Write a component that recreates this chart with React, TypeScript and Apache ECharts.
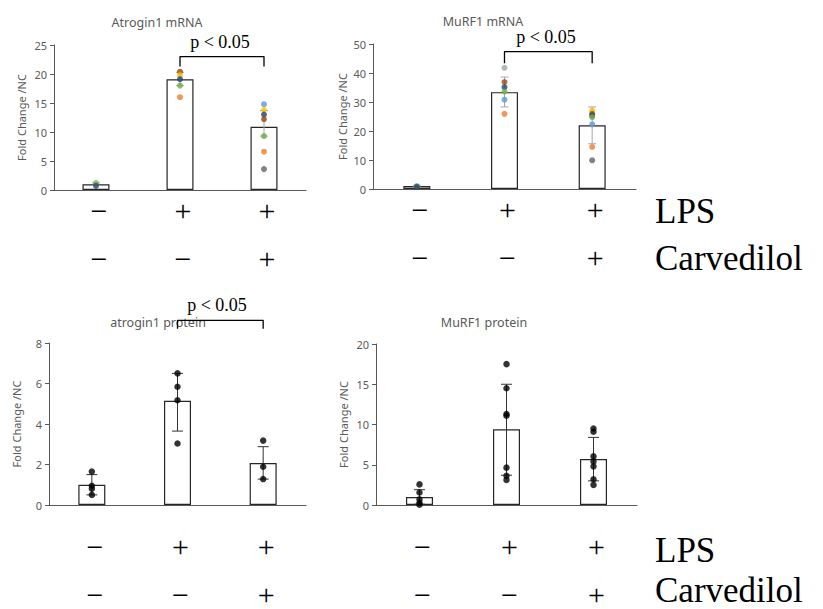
import React, { useEffect, useRef } from "react";
import * as echarts from "echarts";

// ---------- data ----------
const categories = ["NC", "LPS", "LPS+Carvedilol"];
const lpsRow = ["−", "+", "+"];
const carvRow = ["−", "−", "+"];
const panelTitles = ["Atrogin1 mRNA", "MuRF1 mRNA", "atrogin1 protein", "MuRF1 protein"];
const yAxisName = "Fold Change /NC";
const yMax = [25, 50, 8, 20];
const yStep = [5, 10, 2, 5];

const C = {
  lightBlue: "#5B9BD5",
  orange: "#ED7D31",
  gray: "#A5A5A5",
  gold: "#FFC000",
  blue: "#4472C4",
  green: "#70AD47",
  navy: "#264478",
  brown: "#9E480E",
  darkGray: "#636363",
  black: "#000000",
};

// Atrogin1 mRNA
const atroMrnaMeans = [1.0, 19.1, 10.9];
const atroMrnaLow = [0.8, 18.0, 9.3];
const atroMrnaHigh = [1.2, 20.3, 13.7];
const atroMrnaDots = [
  [1.2, 0.7],
  [20.4, 19.8, 19.1, 18.0, 16.0],
  [14.8, 13.8, 13.0, 12.2, 9.3, 6.6, 3.6],
];
const atroMrnaColors = [
  [C.green, C.navy],
  [C.brown, C.gold, C.navy, C.green, C.orange],
  [C.lightBlue, C.gold, C.navy, C.brown, C.green, C.orange, C.darkGray],
];

// MuRF1 mRNA
const murfMrnaMeans = [1.0, 33.4, 22.0];
const murfMrnaLow = [0.7, 28.3, 15.6];
const murfMrnaHigh = [1.3, 38.6, 28.3];
const murfMrnaDots = [
  [1.0, 0.7],
  [41.8, 36.9, 35.1, 33.6, 30.8, 25.9],
  [27.0, 25.9, 25.4, 24.8, 22.3, 14.5, 9.9],
];
const murfMrnaColors = [
  [C.green, C.navy],
  [C.gray, C.brown, C.navy, C.green, C.lightBlue, C.orange],
  [C.gold, C.brown, C.navy, C.green, C.lightBlue, C.orange, C.darkGray],
];

// atrogin1 protein
const atroProtMeans = [1.0, 5.15, 2.07];
const atroProtLow = [0.5, 3.65, 1.28];
const atroProtHigh = [1.5, 6.5, 2.88];
const atroProtDots = [
  [1.65, 0.95, 0.8, 0.5],
  [6.5, 5.84, 5.17, 3.04],
  [3.18, 1.89, 1.28],
];

// MuRF1 protein
const murfProtMeans = [1.0, 9.4, 5.72];
const murfProtLow = [0.1, 3.7, 3.0];
const murfProtHigh = [1.9, 15.0, 8.4];
const murfProtDots = [
  [2.56, 1.56, 0.72, 0.28, 0.04],
  [17.5, 14.5, 11.3, 11.1, 4.64, 3.64, 3.12],
  [9.5, 9.1, 6.04, 5.4, 4.8, 3.2, 2.5],
];

// significance brackets
const brackets = [
  { panel: 0, from: 1, to: 2, leg: 21.3, top: 23.0, label: "p < 0.05" },
  { panel: 1, from: 1, to: 2, leg: 43.4, top: 47.4, label: "p < 0.05" },
  { panel: 2, from: 1, to: 2, leg: 8.7, top: 9.12, label: "p < 0.05" },
];

const rowNames = ["LPS", "Carvedilol"];

// ---------- layout ----------
const grids = [
  { left: 54, top: 45, width: 252, height: 145 },
  { left: 373, top: 44, width: 263, height: 145 },
  { left: 49, top: 343, width: 257, height: 167 },
  { left: 376, top: 344, width: 261, height: 167 },
];
const nameGaps = [27, 25, 27, 27];
const labelMargins = [5, 5, 26, 26];
const titlePos = [
  [157, 22],
  [483, 21],
  [158, 322],
  [484, 322],
];
const pPos = [
  [220, 42],
  [546, 37],
  [217, 305],
];
const rowTextPos = [
  [655, 211],
  [655, 258],
  [655, 550],
  [655, 590],
];

const AXIS = "#595959";
const SANS = "'Noto Sans', sans-serif";
const SERIF = "'Liberation Serif', 'DejaVu Serif', serif";

function buildPanel(
  i: number,
  means: number[],
  low: number[],
  high: number[],
  dots: number[][],
  colors: string[][] | null,
  errColor: string,
  dotSize: number,
  capW: number
) {
  const series: any[] = [];
  series.push({
    type: "bar",
    xAxisIndex: i,
    yAxisIndex: i,
    data: means,
    barWidth: 27,
    itemStyle: { color: "#ffffff", borderColor: "#262626", borderWidth: 1.2 },
    z: 2,
    silent: true,
  });
  series.push({
    type: "custom",
    xAxisIndex: i,
    yAxisIndex: i,
    data: low.map((l, k) => [k, l, high[k]]),
    encode: { x: 0, y: [1, 2] },
    z: 3,
    silent: true,
    renderItem: (params: any, api: any) => {
      const k = api.value(0);
      const p1 = api.coord([k, api.value(1)]);
      const p2 = api.coord([k, api.value(2)]);
      const style = { stroke: errColor, lineWidth: 1 };
      return {
        type: "group",
        children: [
          { type: "line", shape: { x1: p1[0], y1: p1[1], x2: p2[0], y2: p2[1] }, style },
          { type: "line", shape: { x1: p1[0] - capW / 2, y1: p1[1], x2: p1[0] + capW / 2, y2: p1[1] }, style },
          { type: "line", shape: { x1: p2[0] - capW / 2, y1: p2[1], x2: p2[0] + capW / 2, y2: p2[1] }, style },
        ],
      };
    },
  });
  const pts: any[] = [];
  dots.forEach((grp, k) =>
    grp.forEach((v, j) =>
      pts.push({ value: [k, v], itemStyle: { color: colors ? colors[k][j] : C.black } })
    )
  );
  series.push({
    type: "scatter",
    xAxisIndex: i,
    yAxisIndex: i,
    data: pts,
    symbolSize: dotSize,
    z: 4,
    silent: true,
  });
  return series;
}

export default function App() {
  const ref = useRef<HTMLDivElement>(null);
  useEffect(() => {
    if (!ref.current) return;
    const chart = echarts.init(ref.current, undefined, { renderer: "svg" });

    const xAxis = grids.map((_, i) => ({
      type: "category",
      gridIndex: i,
      data: categories,
      axisLine: { lineStyle: { color: AXIS, width: 1 } },
      axisTick: { alignWithLabel: true, length: 4, lineStyle: { color: AXIS } },
      axisLabel: {
        interval: 0,
        margin: labelMargins[i],
        formatter: (_v: string, idx: number) => `{a|${lpsRow[idx]}}\n{b|${carvRow[idx]}}`,
        rich: {
          a: { fontSize: 30, fontFamily: SERIF, color: "#000", lineHeight: 30, verticalAlign: "middle", padding: [0, 0, 0, 6] },
          b: { fontSize: 30, fontFamily: SERIF, color: "#000", lineHeight: 66, verticalAlign: "middle", padding: [0, 0, 0, 6] },
        },
      },
    }));
    const yAxis = grids.map((_, i) => ({
      type: "value",
      gridIndex: i,
      min: 0,
      max: yMax[i],
      interval: yStep[i],
      name: yAxisName,
      nameLocation: "middle",
      nameGap: nameGaps[i],
      nameTextStyle: { color: AXIS, fontSize: 11, fontFamily: SANS },
      axisLine: { show: true, lineStyle: { color: AXIS, width: 1 } },
      axisTick: { show: true, length: 4, lineStyle: { color: AXIS } },
      splitLine: { show: false },
      axisLabel: { color: AXIS, fontSize: 11, fontFamily: SANS, margin: 7 },
    }));

    const series: any[] = [
      ...buildPanel(0, atroMrnaMeans, atroMrnaLow, atroMrnaHigh, atroMrnaDots, atroMrnaColors, "#A6A6A6", 6, 8),
      ...buildPanel(1, murfMrnaMeans, murfMrnaLow, murfMrnaHigh, murfMrnaDots, murfMrnaColors, "#A6A6A6", 6, 8),
      ...buildPanel(2, atroProtMeans, atroProtLow, atroProtHigh, atroProtDots, null, "#333333", 6.5, 11),
      ...buildPanel(3, murfProtMeans, murfProtLow, murfProtHigh, murfProtDots, null, "#333333", 6.5, 11),
    ];
    brackets.forEach((b) => {
      series.push({
        type: "line",
        xAxisIndex: b.panel,
        yAxisIndex: b.panel,
        data: [
          [b.from, b.leg],
          [b.from, b.top],
          [b.to, b.top],
          [b.to, b.leg],
        ],
        symbol: "none",
        clip: false,
        silent: true,
        z: 5,
        lineStyle: { color: "#000", width: 1.3 },
      });
    });

    const graphic: any[] = [];
    panelTitles.forEach((t, i) =>
      graphic.push({
        type: "text",
        x: titlePos[i][0],
        y: titlePos[i][1],
        style: { text: t, fill: AXIS, font: `12.5px ${SANS}`, align: "center", verticalAlign: "middle" },
      })
    );
    brackets.forEach((b, i) =>
      graphic.push({
        type: "text",
        x: pPos[i][0],
        y: pPos[i][1],
        style: { text: b.label, fill: "#000", font: `18px ${SERIF}`, align: "center", verticalAlign: "middle" },
      })
    );
    rowTextPos.forEach((p, i) =>
      graphic.push({
        type: "text",
        x: p[0],
        y: p[1],
        style: { text: rowNames[i % 2], fill: "#000", font: `35px ${SERIF}`, align: "left", verticalAlign: "middle" },
      })
    );

    chart.setOption({
      animation: false,
      backgroundColor: "#ffffff",
      grid: grids,
      xAxis,
      yAxis,
      series,
      graphic,
    });
    return () => chart.dispose();
  }, []);
  return (
    <div
      ref={ref}
      style={{ position: "absolute", left: 0, top: 0, width: 823, height: 609 }}
    />
  );
}
